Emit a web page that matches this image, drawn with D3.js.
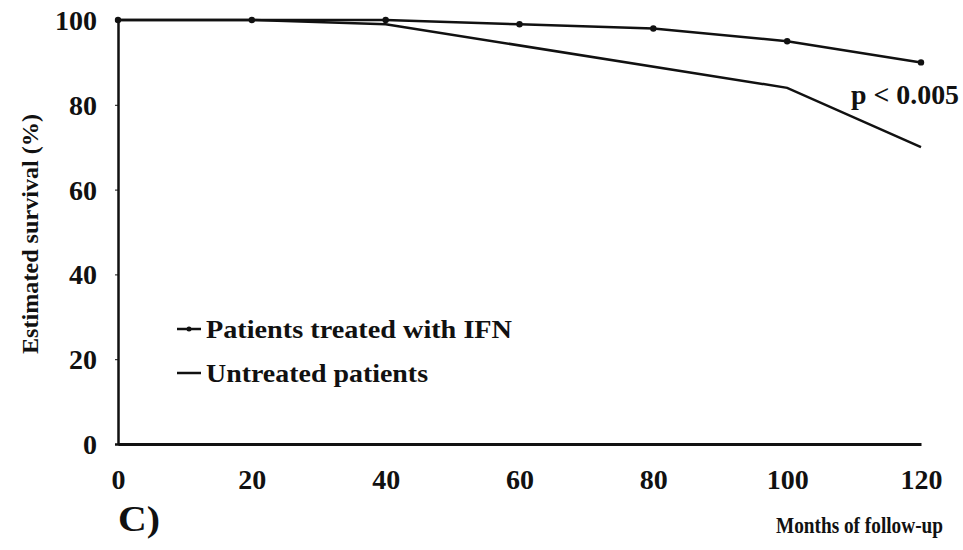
<!DOCTYPE html>
<html>
<head>
<meta charset="utf-8">
<script src="https://cdn.jsdelivr.net/npm/d3@7"></script>
<style>
  body { margin: 0; background: #fff; }
  svg text { font-family: "Liberation Serif", "DejaVu Serif", serif; font-weight: bold; fill: #111; }
</style>
</head>
<body>
<svg width="963" height="550"></svg>
<script>
// data
let months    = [0, 20, 40, 60, 80, 100, 120];
let treated   = [100, 100, 100, 99, 98, 95, 90];
let untrMonths = [0, 20, 40, 100, 120];
let untreated  = [100, 100, 99, 84, 70];
let xTicks = [0, 20, 40, 60, 80, 100, 120];
let yTicks = [0, 20, 40, 60, 80, 100];

const serif = "Liberation Serif, DejaVu Serif, serif";

let svg = d3.select("svg");

let x = d3.scaleLinear().domain([0, 120]).range([118, 921]);
let y = d3.scaleLinear().domain([0, 100]).range([444, 20]);

// axes
let yAxis = svg.append("g")
    .attr("transform", "translate(118,0)")
    .call(d3.axisLeft(y).tickValues(yTicks).tickSize(3).tickPadding(18));
yAxis.attr("font-family", serif).attr("font-weight", "bold");
yAxis.select(".domain").attr("stroke", "#111").attr("stroke-width", 2.5);
yAxis.selectAll(".tick line").attr("stroke", "#111");
yAxis.selectAll("text").style("font-size", "28px").attr("dy", "0.34em");

let xAxis = svg.append("g")
    .attr("transform", "translate(0,444)")
    .call(d3.axisBottom(x).tickValues(xTicks).tickSize(0).tickPadding(25));
xAxis.attr("font-family", serif).attr("font-weight", "bold");
xAxis.select(".domain").attr("stroke", "#111").attr("stroke-width", 3);
xAxis.selectAll("text").style("font-size", "28px");

// lines
let line = d3.line().x(d => x(d[0])).y(d => y(d[1]));

svg.append("path")
    .datum(untrMonths.map((m, i) => [m, untreated[i]]))
    .attr("d", line)
    .attr("fill", "none")
    .attr("stroke", "#111")
    .attr("stroke-width", 2.5);

svg.append("path")
    .datum(months.map((m, i) => [m, treated[i]]))
    .attr("d", line)
    .attr("fill", "none")
    .attr("stroke", "#111")
    .attr("stroke-width", 2.5);

svg.selectAll("circle.pt")
    .data(months.map((m, i) => [m, treated[i]]))
    .join("circle")
    .attr("class", "pt")
    .attr("cx", d => x(d[0]))
    .attr("cy", d => y(d[1]))
    .attr("r", 3.2)
    .attr("fill", "#111");

// legend
let legend = [
  {label: "Patients treated with IFN", dot: true, w: 306},
  {label: "Untreated patients", dot: false, w: 222}
];
let lg = svg.selectAll("g.leg")
    .data(legend)
    .join("g")
    .attr("class", "leg")
    .attr("transform", (d, i) => "translate(177," + (329 + i * 44) + ")");
lg.append("line")
    .attr("x1", 0).attr("x2", 24).attr("y1", 0).attr("y2", 0)
    .attr("stroke", "#111").attr("stroke-width", 2.5);
lg.filter(d => d.dot).append("circle")
    .attr("cx", 12).attr("cy", 0).attr("r", 2.5).attr("fill", "#111");
lg.append("text")
    .attr("x", 29).attr("y", 9)
    .attr("textLength", d => d.w)
    .attr("lengthAdjust", "spacingAndGlyphs")
    .style("font-size", "26px")
    .text(d => d.label);

// annotations
svg.append("text")
    .attr("x", 959).attr("y", 104)
    .attr("text-anchor", "end")
    .attr("textLength", 108)
    .attr("lengthAdjust", "spacingAndGlyphs")
    .style("font-size", "28px")
    .text("p < 0.005");

svg.append("text")
    .attr("transform", "translate(38,234) rotate(-90)")
    .attr("text-anchor", "middle")
    .attr("textLength", 240)
    .attr("lengthAdjust", "spacingAndGlyphs")
    .style("font-size", "23px")
    .text("Estimated survival (%)");

svg.append("text")
    .attr("x", 118).attr("y", 531)
    .attr("textLength", 42)
    .attr("lengthAdjust", "spacingAndGlyphs")
    .style("font-size", "35px")
    .text("C)");

svg.append("text")
    .attr("x", 943).attr("y", 533)
    .attr("text-anchor", "end")
    .attr("textLength", 167)
    .attr("lengthAdjust", "spacingAndGlyphs")
    .style("font-size", "24px")
    .text("Months of follow-up");
</script>
</body>
</html>
